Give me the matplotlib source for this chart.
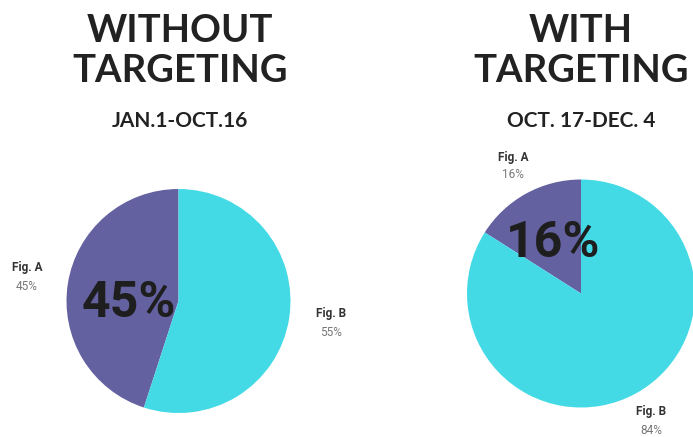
import matplotlib
matplotlib.use("Agg")
import matplotlib.pyplot as plt

# data
labels = ["Fig. A", "Fig. B"]
without_vals = [45, 55]
with_vals = [16, 84]
titles = [["WITHOUT", "TARGETING"], ["WITH", "TARGETING"]]
periods = ["JAN.1-OCT.16", "OCT. 17-DEC. 4"]

colors = ["#6461A0", "#43DAE6"]
W, H = 693, 437

fig = plt.figure(figsize=(W / 100, H / 100), dpi=100)
fig.patch.set_facecolor("white")

def px(x, y):
    return x / W, 1 - y / H

def pie_axes(cx, cy, r):
    ax = fig.add_axes([(cx - r) / W, (H - cy - r) / H, 2 * r / W, 2 * r / H])
    return ax

title_font = ["Lato", "DejaVu Sans"]
label_font = ["Roboto", "DejaVu Sans"]

# pies: center x, center y (pixels from top), radius
pies = [(178.5, 301, 112, without_vals), (581, 293.5, 114, with_vals)]
for cx, cy, r, vals in pies:
    ax = pie_axes(cx, cy, r)
    ax.pie(vals, colors=colors, startangle=90, counterclock=True,
           wedgeprops=dict(linewidth=0))
    ax.set_xlim(-1, 1)
    ax.set_ylim(-1, 1)
    ax.set_aspect("equal")
    ax.axis("off")

# titles
for (x, t, p) in [(180, titles[0], periods[0]), (581, titles[1], periods[1])]:
    fig.text(*px(x, 42), t[0], ha="center", va="baseline", fontsize=27.5,
             fontweight="bold", family=title_font, color="#222222")
    fig.text(*px(x, 82), t[1], ha="center", va="baseline", fontsize=27.5,
             fontweight="bold", family=title_font, color="#222222")
    fig.text(*px(x, 127), p, ha="center", va="baseline", fontsize=15,
             fontweight="bold", family=title_font, color="#222222")

# big numbers inside purple slice
fig.text(*px(129, 317), "%d%%" % without_vals[0], ha="center", va="baseline",
         fontsize=36, fontweight="bold", family=label_font, color="#1e1e1e")
fig.text(*px(553, 257), "%d%%" % with_vals[0], ha="center", va="baseline",
         fontsize=36, fontweight="bold", family=label_font, color="#1e1e1e")

# outer labels
outer = [(27, 268, labels[0], without_vals[0]),
         (331, 314, labels[1], without_vals[1]),
         (513, 157, labels[0], with_vals[0]),
         (651, 412, labels[1], with_vals[1])]
for x, y, lab, v in outer:
    fig.text(*px(x, y), lab, ha="center", va="center", fontsize=8.5,
             fontweight="bold", family=label_font, color="#333333")
    fig.text(*px(x, y + 18), "%d%%" % v, ha="center", va="center",
             fontsize=8.5, family=label_font, color="#777777")

fig.savefig("out.png", dpi=100)
